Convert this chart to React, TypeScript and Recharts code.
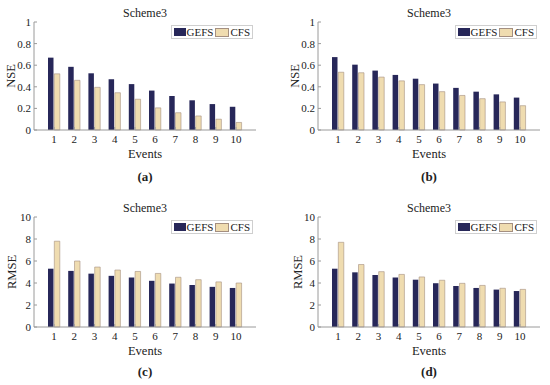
import { BarChart, Bar, XAxis, YAxis } from "recharts";

const events = ["1", "2", "3", "4", "5", "6", "7", "8", "9", "10"];

// (a) NSE
const nseGefsA = [0.67, 0.585, 0.525, 0.47, 0.425, 0.365, 0.315, 0.275, 0.24, 0.215];
const nseCfsA = [0.52, 0.46, 0.395, 0.345, 0.285, 0.205, 0.16, 0.13, 0.1, 0.07];

// (b) NSE
const nseGefsB = [0.675, 0.605, 0.55, 0.51, 0.475, 0.43, 0.39, 0.355, 0.33, 0.3];
const nseCfsB = [0.535, 0.53, 0.49, 0.455, 0.42, 0.355, 0.32, 0.29, 0.26, 0.225];

// (c) RMSE
const rmseGefsC = [5.3, 5.1, 4.85, 4.65, 4.5, 4.2, 3.95, 3.82, 3.65, 3.55];
const rmseCfsC = [7.8, 6.0, 5.45, 5.18, 5.05, 4.87, 4.52, 4.3, 4.1, 4.0];

// (d) RMSE
const rmseGefsD = [5.3, 4.97, 4.73, 4.5, 4.3, 3.98, 3.73, 3.55, 3.4, 3.27];
const rmseCfsD = [7.7, 5.68, 5.03, 4.78, 4.55, 4.25, 3.97, 3.78, 3.52, 3.42];

const nseTicks = [0, 0.2, 0.4, 0.6, 0.8, 1];
const rmseTicks = [0, 2, 4, 6, 8, 10];

const FONT = '"Liberation Serif", "Times New Roman", serif';
const GEFS_COLOR = "#272759";
const CFS_COLOR = "#efdcb0";
const CFS_EDGE = "#a48f80";
const AXIS = "#9a9a9a";

const W = 275;
const H = 192;
const PLOT_TOP = 22;
const X_AXIS_H = 28;

type PanelProps = {
  left: number;
  top: number;
  plotLeft: number;
  plotRight: number;
  plotBottom: number;
  yLabel: string;
  yLabelX: number;
  ticks: number[];
  gefs: number[];
  cfs: number[];
  letter: string;
};

function Panel(p: PanelProps) {
  const data = events.map((e, i) => ({ event: e, GEFS: p.gefs[i], CFS: p.cfs[i] }));
  const domain = [p.ticks[0], p.ticks[p.ticks.length - 1]];
  const tickStyle = { fontSize: 11, fill: "#222", fontFamily: FONT };
  const centre = (p.plotLeft + p.plotRight) / 2;
  return (
    <div style={{ position: "absolute", left: p.left, top: p.top, width: W, height: H, fontFamily: FONT }}>
      <div style={{ position: "absolute", left: centre - 40, width: 80, top: 6, textAlign: "center", fontSize: 12, lineHeight: "15px", color: "#222" }}>
        Scheme3
      </div>
      <BarChart
        width={W}
        height={H}
        data={data}
        margin={{ top: PLOT_TOP, right: W - p.plotRight, bottom: H - p.plotBottom - X_AXIS_H, left: 0 }}
        barSize={5.5}
        barGap={0.8}
      >
        <XAxis
          dataKey="event"
          height={X_AXIS_H}
          padding={{ left: 10, right: 10 }}
          tick={tickStyle}
          tickSize={-3}
          tickMargin={8}
          axisLine={{ stroke: AXIS }}
          tickLine={{ stroke: AXIS }}
          interval={0}
          label={{ value: "Events", position: "insideBottom", offset: 0, style: { fontSize: 12.5, fill: "#222", fontFamily: FONT } }}
        />
        <XAxis
          xAxisId="top"
          dataKey="event"
          orientation="top"
          height={0}
          padding={{ left: 10, right: 10 }}
          tick={false}
          tickSize={-3}
          axisLine={{ stroke: AXIS }}
          tickLine={{ stroke: AXIS }}
          interval={0}
        />
        <YAxis
          width={p.plotLeft}
          domain={domain}
          ticks={p.ticks}
          tick={tickStyle}
          tickSize={-3}
          tickMargin={6}
          axisLine={{ stroke: AXIS }}
          tickLine={{ stroke: AXIS }}
          label={{ value: p.yLabel, angle: -90, position: "insideLeft", offset: p.yLabelX, style: { textAnchor: "middle", fontSize: 12.5, fill: "#222", fontFamily: FONT } }}
        />
        <YAxis
          yAxisId="r"
          orientation="right"
          width={0}
          domain={domain}
          ticks={p.ticks}
          tick={false}
          tickSize={-3}
          axisLine={{ stroke: AXIS }}
          tickLine={{ stroke: AXIS }}
        />
        <Bar dataKey="GEFS" fill={GEFS_COLOR} isAnimationActive={false} />
        <Bar dataKey="CFS" fill={CFS_COLOR} stroke={CFS_EDGE} strokeWidth={0.6} isAnimationActive={false} />
      </BarChart>
      <div
        style={{
          position: "absolute",
          right: W - p.plotRight + 3,
          top: PLOT_TOP + 3,
          height: 12,
          display: "flex",
          alignItems: "center",
          border: "1px solid #cfcfcf",
          background: "#fff",
          padding: "0 2px",
          fontSize: 11,
          color: "#222",
        }}
      >
        <span style={{ width: 12, height: 8, background: GEFS_COLOR, marginRight: 1 }} />
        <span style={{ marginRight: 2 }}>GEFS</span>
        <span style={{ width: 12, height: 7, background: CFS_COLOR, border: `0.6px solid ${CFS_EDGE}`, marginRight: 1 }} />
        <span>CFS</span>
      </div>
      <div style={{ position: "absolute", left: centre - 20, width: 40, top: H - 23, textAlign: "center", fontSize: 13, fontWeight: "bold", color: "#222" }}>
        {p.letter}
      </div>
    </div>
  );
}

export default function App() {
  return (
    <div style={{ position: "absolute", left: 0, top: 0, width: 550, height: 385, background: "#fff" }}>
      <Panel left={0} top={0} plotLeft={34} plotRight={256} plotBottom={130} yLabel="NSE" yLabelX={11} ticks={nseTicks} gefs={nseGefsA} cfs={nseCfsA} letter="(a)" />
      <Panel left={275} top={0} plotLeft={43} plotRight={265} plotBottom={130} yLabel="NSE" yLabelX={20} ticks={nseTicks} gefs={nseGefsB} cfs={nseCfsB} letter="(b)" />
      <Panel left={0} top={195} plotLeft={34} plotRight={256} plotBottom={132} yLabel="RMSE" yLabelX={12} ticks={rmseTicks} gefs={rmseGefsC} cfs={rmseCfsC} letter="(c)" />
      <Panel left={275} top={195} plotLeft={43} plotRight={265} plotBottom={132} yLabel="RMSE" yLabelX={23} ticks={rmseTicks} gefs={rmseGefsD} cfs={rmseCfsD} letter="(d)" />
    </div>
  );
}
